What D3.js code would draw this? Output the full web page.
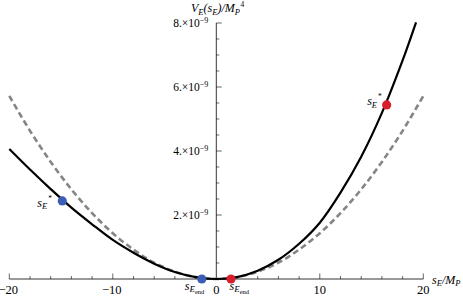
<!DOCTYPE html>
<html><head><meta charset="utf-8">
<script src="https://cdn.jsdelivr.net/npm/d3@7"></script>
<style>
html,body{margin:0;padding:0;background:#fff;}
svg{display:block;font-family:"Liberation Serif","DejaVu Serif",serif;}
</style></head>
<body><svg id="chart" width="463" height="296"></svg>
<script>
// ---- data ----
const sValues      = [-20, -18, -16, -14, -12, -10, -8, -6, -4, -2, 0, 2, 4, 6, 8, 10, 12, 14, 16, 18, 19.3];
const potentialE   = [4.06, 3.42, 2.81, 2.23, 1.71, 1.22, 0.82, 0.48, 0.22, 0.06, 0, 0.06, 0.26, 0.60, 1.10, 1.76, 2.70, 3.82, 5.19, 6.83, 8.02];
const gValues      = [-20, -18, -16, -14, -12, -10, -8, -6, -4, -2, 0, 2, 4, 6, 8, 10, 12, 14, 16, 18, 20];
const potentialRef = [5.72, 4.63, 3.66, 2.80, 2.06, 1.43, 0.92, 0.51, 0.23, 0.06, 0, 0.06, 0.23, 0.51, 0.92, 1.43, 2.06, 2.80, 3.66, 4.63, 5.72];
const starPointsX  = [-14.88, 16.46];
const starPointsV  = [2.44, 5.44];
const endPointsX   = [-1.4, 1.42];
const endPointsV   = [0, 0];
const pointColors  = ["#3b5db5", "#d7202a"];
const xMajorTicks  = [-20, -10, 0, 10, 20];
const xTickLabels  = ["\u221220", "\u221210", "0", "10", "20"];
const yMajorTicks  = [2, 4, 6, 8];
const yTickLabels  = ["2.", "4.", "6.", "8."];

// ---- layout ----
const svg = d3.select("#chart");
const x = d3.scaleLinear().domain([-20, 20]).range([9.3, 423.3]);
const y = d3.scaleLinear().domain([0, 8]).range([279, 23]);

// axes
const g = svg.append("g");
g.append("line").attr("x1", x(-20)).attr("x2", x(20)).attr("y1", y(0)).attr("y2", y(0))
  .attr("stroke", "#000").attr("stroke-width", 0.8);
g.append("line").attr("x1", x(0)).attr("x2", x(0)).attr("y1", y(0)).attr("y2", y(8))
  .attr("stroke", "#000").attr("stroke-width", 0.8);

// x ticks
const xMinor = d3.range(-20, 20.01, 2).filter(v => !xMajorTicks.includes(v));
g.selectAll(".xmin").data(xMinor).join("line")
  .attr("x1", d => x(d)).attr("x2", d => x(d)).attr("y1", y(0)).attr("y2", y(0) - 3)
  .attr("stroke", "#000").attr("stroke-width", 0.6);
g.selectAll(".xmaj").data(xMajorTicks.filter(v => v !== 0)).join("line")
  .attr("x1", d => x(d)).attr("x2", d => x(d)).attr("y1", y(0)).attr("y2", y(0) - 5.5)
  .attr("stroke", "#000").attr("stroke-width", 0.6);
g.selectAll(".xlab").data(xMajorTicks).join("text")
  .attr("x", d => x(d) + (d < 0 ? -1 : 0)).attr("y", y(0) + 14.5)
  .attr("text-anchor", "middle").attr("font-size", 12.5)
  .text((d, i) => xTickLabels[i]);

// y ticks
const yMinor = d3.range(0.5, 8.01, 0.5).filter(v => !yMajorTicks.includes(v));
g.selectAll(".ymin").data(yMinor).join("line")
  .attr("x1", x(0)).attr("x2", x(0) + 3).attr("y1", d => y(d)).attr("y2", d => y(d))
  .attr("stroke", "#000").attr("stroke-width", 0.6);
g.selectAll(".ymaj").data(yMajorTicks).join("line")
  .attr("x1", x(0)).attr("x2", x(0) + 5.5).attr("y1", d => y(d)).attr("y2", d => y(d))
  .attr("stroke", "#000").attr("stroke-width", 0.6);
const yl = g.selectAll(".ylab").data(yMajorTicks).join("text")
  .attr("x", x(0) - 8).attr("y", d => y(d) + 4)
  .attr("text-anchor", "end").attr("font-size", 11.5);
yl.append("tspan").text((d, i) => yTickLabels[i] + "\u00d710");
yl.append("tspan").attr("dy", -4.5).attr("font-size", 8).text("\u22129");

// curves
const line = d3.line().x(d => x(d[0])).y(d => y(d[1])).curve(d3.curveCatmullRom);
svg.append("path").datum(gValues.map((v, i) => [v, potentialRef[i]]))
  .attr("d", line).attr("fill", "none").attr("stroke", "#858585")
  .attr("stroke-width", 2.6).attr("stroke-dasharray", "6,3.5");
svg.append("path").datum(sValues.map((v, i) => [v, potentialE[i]]))
  .attr("d", line).attr("fill", "none").attr("stroke", "#000")
  .attr("stroke-width", 2.2);

// points
svg.selectAll(".star").data(starPointsX).join("circle")
  .attr("cx", d => x(d)).attr("cy", (d, i) => y(starPointsV[i])).attr("r", 4.6)
  .attr("fill", (d, i) => pointColors[i]);
svg.selectAll(".endp").data(endPointsX).join("circle")
  .attr("cx", d => x(d)).attr("cy", (d, i) => y(endPointsV[i])).attr("r", 4.6)
  .attr("fill", (d, i) => pointColors[i]);

// labels: s_E^*
function starLabel(px, py) {
  const t = svg.append("text").attr("x", px).attr("y", py).attr("font-size", 12).attr("font-style", "italic");
  t.append("tspan").text("s");
  t.append("tspan").attr("dy", 2.5).attr("font-size", 8.5).text("E");
  t.append("tspan").attr("dy", -8.5).attr("dx", 1).attr("font-size", 7.5).attr("font-style", "normal").text("*");
}
starLabel(x(starPointsX[0]) - 25, y(starPointsV[0]) + 6);
starLabel(x(starPointsX[1]) - 19.5, y(starPointsV[1]) + 0.5);

function endLabel(px, py) {
  const t = svg.append("text").attr("x", px).attr("y", py).attr("font-size", 12).attr("font-style", "italic");
  t.append("tspan").text("s");
  t.append("tspan").attr("dy", 2).attr("font-size", 9).text("E");
  t.append("tspan").attr("dy", 1.5).attr("font-size", 6.5).attr("font-style", "normal").text("end");
}
endLabel(x(endPointsX[0]) - 17, y(0) + 11);
endLabel(x(endPointsX[1]) - 1.5, y(0) + 11);

// axis titles
const xt = svg.append("text").attr("x", 432).attr("y", y(0) + 4.5).attr("font-size", 12).attr("font-style", "italic");
xt.append("tspan").text("s");
xt.append("tspan").attr("dy", 2.5).attr("font-size", 8.5).text("E");
xt.append("tspan").attr("dy", -2.5).text("/M");
xt.append("tspan").attr("dy", 2.5).attr("font-size", 8.5).text("P");

const yt = svg.append("text").attr("x", 191).attr("y", 12).attr("font-size", 12).attr("font-style", "italic");
yt.append("tspan").text("V");
yt.append("tspan").attr("dy", 2.5).attr("font-size", 8.5).text("E");
yt.append("tspan").attr("dy", -2.5).text("(s");
yt.append("tspan").attr("dy", 2.5).attr("font-size", 8.5).text("E");
yt.append("tspan").attr("dy", -2.5).text(")/M");
yt.append("tspan").attr("dy", 2.5).attr("font-size", 8.5).text("P");
yt.append("tspan").attr("dx", 0.5).attr("dy", -7.5).attr("font-size", 7.5).attr("font-style", "normal").text("4");
</script></body></html>
